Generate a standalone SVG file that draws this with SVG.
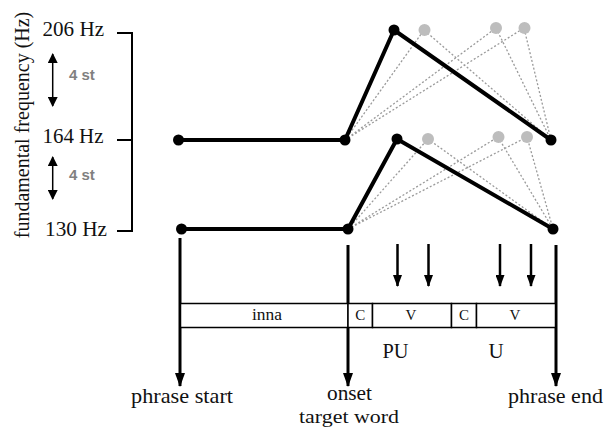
<svg xmlns="http://www.w3.org/2000/svg" width="612" height="428" viewBox="0 0 612 428">
<style>
.t{font-family:"Liberation Serif","Times New Roman",serif;fill:#111}
.st{font-family:"Liberation Sans",Arial,sans-serif;font-weight:bold;font-size:15px;fill:#808080}
.main{fill:none;stroke:#000;stroke-width:4;stroke-linejoin:round}
.dot{fill:#000}
.gdot{fill:#bdbdbd}
.dash{stroke:#9a9a9a;stroke-width:1.3;stroke-dasharray:2 2;fill:none}
.axis{fill:none;stroke:#000;stroke-width:2}
.long{stroke:#000;stroke-width:3;fill:none}
.short{stroke:#000;stroke-width:2.5;fill:none}
.box{fill:#fff;stroke:#000;stroke-width:1.5}
</style>
<defs>
<marker id="ah" markerUnits="userSpaceOnUse" viewBox="0 -5 14 10" refX="13" refY="0" markerWidth="14" markerHeight="10" orient="auto"><path d="M0,-5 L14,0 L0,5 z" fill="#000"/></marker>
<marker id="ahs" markerUnits="userSpaceOnUse" viewBox="0 -4.5 12 9" refX="11" refY="0" markerWidth="12" markerHeight="9" orient="auto"><path d="M0,-4.5 L12,0 L0,4.5 z" fill="#000"/></marker>
<marker id="ahd" markerUnits="userSpaceOnUse" viewBox="0 -5 10 10" refX="9" refY="0" markerWidth="10" markerHeight="10" orient="auto-start-reverse"><path d="M0,-5 L10,0 L0,5 z" fill="#000"/></marker>
</defs>
<rect width="612" height="428" fill="#fff"/>

<g id="axis">
<text class="t" font-size="20" transform="translate(29,125) rotate(-90)" text-anchor="middle">fundamental frequency (Hz)</text>
<text class="t" font-size="20" x="42.5" y="36" textLength="61.5" lengthAdjust="spacingAndGlyphs">206 Hz</text>
<text class="t" font-size="20" x="42.5" y="143" textLength="61" lengthAdjust="spacingAndGlyphs">164 Hz</text>
<text class="t" font-size="20" x="45" y="236" textLength="62" lengthAdjust="spacingAndGlyphs">130 Hz</text>
<path class="axis" d="M117,33 H132 V231 H117 M117,140 H132"/>
<line x1="52.7" y1="54" x2="52.7" y2="106" stroke="#000" stroke-width="1.5" marker-start="url(#ahd)" marker-end="url(#ahd)"/>
<line x1="52.7" y1="157" x2="52.7" y2="199" stroke="#000" stroke-width="1.5" marker-start="url(#ahd)" marker-end="url(#ahd)"/>
<text class="st" x="69" y="80">4 st</text>
<text class="st" x="69" y="180">4 st</text>
</g>

<g id="connectors">
<g id="upper-alternatives">
<path class="dash" d="M345,140 L424,30 L551,140 M345,140 L496,28 L551,140 M345,140 L524,28 L551,140"/>
</g>
<g id="lower-alternatives">
<path class="dash" d="M348,229 L428,139 L553,229 M348,229 L498,137 L553,229 M348,229 L527,137 L553,229"/>
</g>
<polyline class="main" points="178.5,140 345,140 394,30 551,140"/>
<polyline class="main" points="181.5,229 348,229 397,139 553,229"/>
<line class="long" x1="180" y1="238" x2="180" y2="386" marker-end="url(#ah)"/>
<line class="long" x1="348" y1="245" x2="348" y2="386" marker-end="url(#ah)"/>
<line class="long" x1="556" y1="245" x2="556" y2="386" marker-end="url(#ah)"/>
<line class="short" x1="397.5" y1="244" x2="397.5" y2="286" marker-end="url(#ahs)"/>
<line class="short" x1="428.5" y1="244" x2="428.5" y2="286" marker-end="url(#ahs)"/>
<line class="short" x1="500" y1="244" x2="500" y2="286" marker-end="url(#ahs)"/>
<line class="short" x1="531" y1="244" x2="531" y2="286" marker-end="url(#ahs)"/>
</g>

<g id="upper-contour">
<circle class="dot" cx="178.5" cy="140" r="5.5"/>
<circle class="dot" cx="345" cy="140" r="5.5"/>
<circle class="dot" cx="394" cy="30" r="5.5"/>
<circle class="dot" cx="551" cy="140" r="5.5"/>
<circle class="gdot" cx="424.5" cy="30" r="6"/>
<circle class="gdot" cx="496" cy="28" r="6"/>
<circle class="gdot" cx="524.5" cy="28" r="6"/>
</g>
<g id="lower-contour">
<circle class="dot" cx="181.5" cy="229" r="5.5"/>
<circle class="dot" cx="348" cy="229" r="5.5"/>
<circle class="dot" cx="397" cy="139" r="5.5"/>
<circle class="dot" cx="553" cy="229" r="5.5"/>
<circle class="gdot" cx="428" cy="139" r="6"/>
<circle class="gdot" cx="498.5" cy="137" r="6"/>
<circle class="gdot" cx="527" cy="137" r="6"/>
</g>

<g id="segments">
<rect class="box" x="180.5" y="303.5" width="167.5" height="24"/>
<rect class="box" x="348" y="303.5" width="24.5" height="24"/>
<rect class="box" x="372.5" y="303.5" width="79" height="24"/>
<rect class="box" x="451.5" y="303.5" width="25" height="24"/>
<rect class="box" x="476.5" y="303.5" width="79" height="24"/>
<text class="t" font-size="16" x="267" y="320" text-anchor="middle" textLength="30" lengthAdjust="spacingAndGlyphs">inna</text>
<text class="t" font-size="15" x="360.3" y="320" text-anchor="middle">C</text>
<text class="t" font-size="15" x="411" y="320" text-anchor="middle">V</text>
<text class="t" font-size="15" x="464" y="320" text-anchor="middle">C</text>
<text class="t" font-size="15" x="515" y="320" text-anchor="middle">V</text>
</g>
<g id="syllables">
<text class="t" font-size="21" x="395.5" y="358" text-anchor="middle" textLength="26" lengthAdjust="spacingAndGlyphs">PU</text>
<text class="t" font-size="21" x="496" y="358" text-anchor="middle">U</text>
</g>
<g id="labels">
<text class="t" font-size="21" x="131" y="403" textLength="102" lengthAdjust="spacingAndGlyphs">phrase start</text>
<text class="t" font-size="21" x="327" y="400" textLength="45" lengthAdjust="spacingAndGlyphs">onset</text>
<text class="t" font-size="19" x="299" y="423" textLength="100" lengthAdjust="spacingAndGlyphs">target word</text>
<text class="t" font-size="21" x="508" y="403" textLength="95" lengthAdjust="spacingAndGlyphs">phrase end</text>
</g>
</svg>
